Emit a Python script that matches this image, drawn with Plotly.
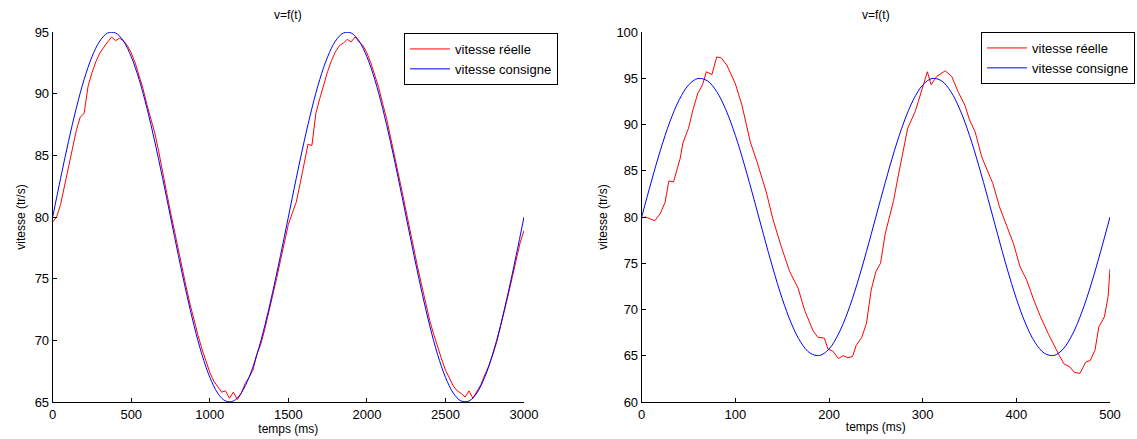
import plotly.graph_objects as go

# ---- left panel : 0..3000 ms ----
t_cons_g = list(range(0, 3001, 50))
v_cons_g = [80.00, 83.12, 86.10, 88.82, 91.15, 92.99, 94.27, 94.92, 94.92, 94.27,
            92.99, 91.15, 88.82, 86.10, 83.12, 80.00, 76.88, 73.90, 71.18, 68.85,
            67.01, 65.73, 65.08, 65.08, 65.73, 67.01, 68.85, 71.18, 73.90, 76.88,
            80.00, 83.12, 86.10, 88.82, 91.15, 92.99, 94.27, 94.92, 94.92, 94.27,
            92.99, 91.15, 88.82, 86.10, 83.12, 80.00, 76.88, 73.90, 71.18, 68.85,
            67.01, 65.73, 65.08, 65.08, 65.73, 67.01, 68.85, 71.18, 73.90, 76.88,
            80.00]

t_reel_g = list(range(0, 3001, 25))
v_reel_g = [79.6, 80.0, 81.0, 82.6, 84.1, 85.5, 87.0, 88.1, 88.4, 90.6,
            91.7, 92.6, 93.3, 93.8, 94.2, 94.6, 94.3, 94.5, 94.3, 93.9,
            93.3, 92.5, 91.5, 90.4, 89.1, 88.0, 86.8, 85.3, 83.5, 82.0,
            80.4, 78.8, 77.3, 75.8, 74.3, 72.9, 71.6, 70.4, 69.3, 68.3,
            67.4, 66.7, 66.2, 65.8, 65.9, 65.3, 65.8, 65.2, 65.7, 66.5,
            67.0, 67.6, 68.9, 69.7, 70.9, 72.2, 73.7, 75.0, 76.5, 78.0,
            79.4, 80.3, 81.2, 82.7, 84.3, 85.9, 85.8, 88.4, 89.6, 90.8,
            91.8, 92.7, 93.4, 93.9, 94.1, 94.4, 94.2, 94.6, 94.2, 93.9,
            93.3, 92.5, 91.5, 90.5, 89.2, 88.0, 86.5, 85.1, 83.5, 82.0,
            80.4, 78.8, 77.3, 75.8, 74.4, 72.9, 71.6, 70.5, 69.4, 68.5,
            67.6, 66.9, 66.3, 65.9, 65.7, 65.4, 65.9, 65.3, 65.9, 66.4,
            67.2, 67.9, 68.8, 69.8, 71.1, 72.3, 73.7, 75.1, 76.6, 77.9,
            78.9]

# ---- right panel : 0..500 ms ----
t_cons_d = list(range(0, 501, 10))
v_cons_d = [80.00, 83.73, 87.23, 90.27, 92.66, 94.27, 94.97, 94.73, 93.57, 91.56,
            88.82, 85.52, 81.88, 78.12, 74.48, 71.18, 68.44, 66.43, 65.27, 65.03,
            65.73, 67.34, 69.73, 72.77, 76.27, 80.00, 83.73, 87.23, 90.27, 92.66,
            94.27, 94.97, 94.73, 93.57, 91.56, 88.82, 85.52, 81.88, 78.12, 74.48,
            71.18, 68.44, 66.43, 65.27, 65.03, 65.73, 67.34, 69.73, 72.77, 76.27,
            80.00]

t_reel_d = [0, 4, 14, 20, 25, 29, 34, 41, 44, 50, 55, 60, 65, 69, 75, 80, 85, 91,
            100, 107, 116, 123, 133, 140, 149, 158, 167, 174, 183, 188, 195, 199,
            204, 210, 215, 220, 225, 229, 235, 240, 245, 250, 255, 260, 265, 269,
            274, 284, 292, 300, 305, 309, 315, 324, 331, 338, 345, 350, 356, 363,
            370, 375, 382, 389, 397, 404, 411, 418, 425, 434, 441, 446, 451, 457,
            462, 468, 474, 479, 484, 488, 494, 498, 500]
v_reel_d = [79.9, 80.0, 79.6, 80.4, 81.6, 83.9, 83.8, 86.3, 88.0, 89.6, 91.7, 93.4,
            94.3, 95.7, 95.4, 97.3, 97.2, 96.4, 94.4, 92.1, 88.1, 86.0, 82.7, 79.8,
            76.8, 74.1, 72.3, 69.9, 67.7, 67.0, 66.9, 65.7, 65.5, 64.7, 65.0, 64.8,
            64.9, 66.1, 67.0, 68.5, 72.1, 74.1, 75.0, 78.2, 80.2, 81.8, 84.5, 89.6,
            91.4, 93.9, 95.7, 94.3, 95.2, 95.8, 95.2, 93.5, 92.1, 90.5, 89.2, 86.5,
            84.7, 83.6, 81.1, 79.2, 77.1, 74.6, 73.2, 71.2, 69.4, 67.4, 65.9, 65.0,
            64.1, 63.8, 63.2, 63.1, 64.3, 64.5, 65.6, 68.1, 69.2, 71.4, 74.4]

FONT = "Liberation Sans, Arial, Helvetica, sans-serif"
W, H = 1137, 439

fig = go.Figure()
fig.add_trace(go.Scatter(x=t_reel_g, y=v_reel_g, mode="lines", name="vitesse réelle",
                         line=dict(color="#ff0000", width=1),
                         xaxis="x", yaxis="y", legend="legend"))
fig.add_trace(go.Scatter(x=t_cons_g, y=v_cons_g, mode="lines", name="vitesse consigne",
                         line=dict(color="#0000ff", width=1, shape="spline"),
                         xaxis="x", yaxis="y", legend="legend"))
fig.add_trace(go.Scatter(x=t_reel_d, y=v_reel_d, mode="lines", name="vitesse réelle",
                         line=dict(color="#ff0000", width=1), xaxis="x2", yaxis="y2",
                         legend="legend2"))
fig.add_trace(go.Scatter(x=t_cons_d, y=v_cons_d, mode="lines", name="vitesse consigne",
                         line=dict(color="#0000ff", width=1, shape="spline"),
                         xaxis="x2", yaxis="y2", legend="legend2"))

ydom = [(H - 402) / H, (H - 32) / H]
ax = dict(showline=True, linecolor="#000000", linewidth=1, ticks="inside", ticklen=4,
          tickcolor="#000000", showgrid=False, zeroline=False, mirror=False,
          automargin=False, tickfont=dict(size=13, color="#000000"))

fig.update_layout(
    template="none",
    width=W, height=H,
    paper_bgcolor="white", plot_bgcolor="white",
    margin=dict(l=0, r=0, t=0, b=0, pad=0, autoexpand=False),
    font=dict(family=FONT, color="#000000", size=12),
    xaxis=dict(ax, domain=[52.7 / W, 524 / W], range=[0, 3000], tickvals=list(range(0, 3001, 500)),
               anchor="y", title=dict(text="temps (ms)", font=dict(size=12), standoff=2)),
    yaxis=dict(ax, domain=ydom, range=[65, 95], tickvals=[65, 70, 75, 80, 85, 90, 95],
               anchor="x", title=dict(text="vitesse (tr/s)", font=dict(size=12), standoff=6)),
    xaxis2=dict(ax, domain=[641.7 / W, 1110 / W], range=[0, 500], tickvals=list(range(0, 501, 100)),
                anchor="y2", title=dict(text="temps (ms)", font=dict(size=12), standoff=2)),
    yaxis2=dict(ax, domain=ydom, range=[60, 100], tickvals=[60, 65, 70, 75, 80, 85, 90, 95, 100],
                anchor="x2", title=dict(text="vitesse (tr/s)", font=dict(size=12), standoff=6)),
    legend=dict(x=558 / W, xanchor="right", y=1 - 33 / H, yanchor="top",
                bgcolor="white", bordercolor="#000000", borderwidth=1,
                font=dict(size=13), itemwidth=40, tracegroupgap=0),
    legend2=dict(x=1135 / W, xanchor="right", y=1 - 32 / H, yanchor="top",
                 bgcolor="white", bordercolor="#000000", borderwidth=1,
                 font=dict(size=13), itemwidth=40, tracegroupgap=0),
    showlegend=True,
    annotations=[
        dict(text="v=f(t)", x=(52.7 + 524) / 2 / W, y=1 - 15 / H, xref="paper", yref="paper",
             showarrow=False, font=dict(size=12), xanchor="center", yanchor="middle"),
        dict(text="v=f(t)", x=(641.7 + 1110) / 2 / W, y=1 - 15 / H, xref="paper", yref="paper",
             showarrow=False, font=dict(size=12), xanchor="center", yanchor="middle"),
    ],
)

# no body margin so the 1137x439 figure fills the window exactly
fig.write_html("out.html", config={"displayModeBar": False},
               post_script="document.body.style.margin='0';document.body.style.overflow='hidden';")
